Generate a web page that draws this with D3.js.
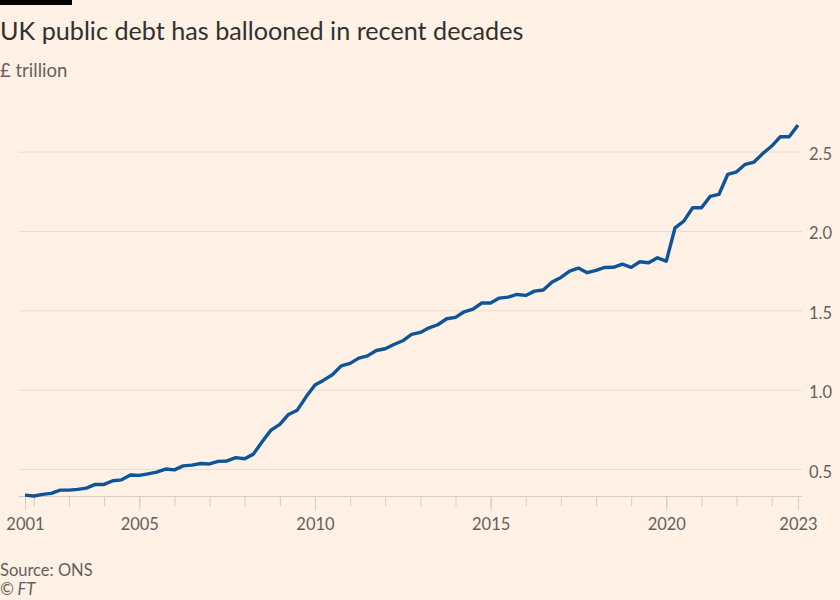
<!DOCTYPE html>
<html>
<head>
<meta charset="utf-8">
<script src="https://cdn.jsdelivr.net/npm/d3@7"></script>
<style>
  html, body { margin: 0; padding: 0; background: #fff1e5; }
  svg { display: block; }
  text { font-family: "Lato", "Noto Sans", sans-serif; }
</style>
</head>
<body>
<svg id="chart" width="840" height="600"></svg>
<script>
// ---- Data ----
const title = "UK public debt has ballooned in recent decades";
const subtitle = "£ trillion";
const source = "Source: ONS";
const credit = "© FT";

// Quarterly observations, first quarter start and count
const startDate = "2001-10-01";
const endDate = "2023-10-01";
const debtValues = [
  0.336, 0.330, 0.340, 0.347, 0.367, 0.367, 0.372, 0.380, 0.403, 0.403,
  0.426, 0.432, 0.462, 0.460, 0.470, 0.481, 0.500, 0.495, 0.520, 0.525,
  0.535, 0.532, 0.548, 0.551, 0.572, 0.565, 0.594, 0.672, 0.745, 0.781,
  0.844, 0.871, 0.955, 1.029, 1.060, 1.094, 1.150, 1.166, 1.199, 1.213,
  1.247, 1.258, 1.285, 1.308, 1.348, 1.361, 1.390, 1.409, 1.447, 1.456,
  1.491, 1.508, 1.546, 1.546, 1.577, 1.583, 1.600, 1.594, 1.621, 1.628,
  1.678, 1.707, 1.747, 1.766, 1.737, 1.752, 1.770, 1.771, 1.791, 1.771,
  1.806, 1.800, 1.831, 1.810, 2.020, 2.062, 2.146, 2.146, 2.218, 2.230,
  2.357, 2.373, 2.420, 2.434, 2.489, 2.535, 2.594, 2.594, 2.667
];
const yTicks = [0.5, 1.0, 1.5, 2.0, 2.5];
const xLabelYears = ["2005", "2010", "2015", "2020"];
const xEndLabels = ["2001", "2023"];
const yDomain = [0.327, 2.667];

// ---- Build ----
const parse = d3.utcParse("%Y-%m-%d");
const t0 = parse(startDate), t1 = parse(endDate);
const dates = d3.utcMonth.every(3).range(t0, d3.utcMonth.offset(t1, 1));
const data = debtValues.map((v, i) => ({ date: dates[i], value: v }));

const svg = d3.select("#chart");
const W = 840, H = 600;
svg.append("rect").attr("width", W).attr("height", H).attr("fill", "#fff1e5");

const x = d3.scaleUtc().domain([t0, t1]).range([25, 798]);
const y = d3.scaleLinear().domain(yDomain).range([496.5, 125.1]);

const gridLeft = 19, gridRight = 802;

// top bar
svg.append("rect").attr("x", 0).attr("y", 0).attr("width", 72).attr("height", 5).attr("fill", "#000");

// title & subtitle
svg.append("text").attr("x", 0).attr("y", 40)
  .attr("font-size", 25.2).attr("fill", "#33302e").text(title);
svg.append("text").attr("x", 0).attr("y", 77)
  .attr("font-size", 18.5).attr("fill", "#66605c").text(subtitle);

// gridlines + y labels
const yAxis = d3.axisRight(y).tickValues(yTicks).tickFormat(d3.format(".1f"))
  .tickSize(gridRight - gridLeft).tickPadding(7);
const gy = svg.append("g").attr("transform", `translate(${gridLeft},0)`).call(yAxis);
gy.select(".domain").remove();
gy.selectAll(".tick line").attr("stroke", "#e9ddd2").attr("stroke-width", 1);
gy.selectAll(".tick text").attr("font-size", 16.5).attr("fill", "#66605c")
  .attr("font-family", "Lato, 'Noto Sans', sans-serif")
  .attr("dy", 0).attr("y", 8).attr("text-anchor", "start");

// x axis: yearly minor ticks
const yearTicks = d3.utcYear.range(d3.utcYear.offset(d3.utcYear.floor(t0), 1), d3.utcMonth.offset(t1, 1));
const xMinor = d3.axisBottom(x).tickValues(yearTicks).tickSize(10).tickFormat("");
const gxMinor = svg.append("g").attr("transform", `translate(0,${y(yDomain[0])})`).call(xMinor);
gxMinor.select(".domain").remove();
gxMinor.selectAll(".tick line").attr("stroke", "#d9ccc1");

// major ticks & labels
const majorDates = [t0, ...xLabelYears.map(s => d3.utcParse("%Y")(s)), t1];
const majorLabels = [xEndLabels[0], ...xLabelYears, xEndLabels[1]];
const xMajor = d3.axisBottom(x).tickValues(majorDates).tickSize(14).tickPadding(8)
  .tickFormat((d, i) => majorLabels[i]);
const gxMajor = svg.append("g").attr("transform", `translate(0,${y(yDomain[0])})`).call(xMajor);
gxMajor.select(".domain").remove();
gxMajor.selectAll(".tick line").attr("stroke", "#d9ccc1");
gxMajor.selectAll(".tick text").attr("font-size", 16.5).attr("fill", "#66605c")
  .attr("font-family", "Lato, 'Noto Sans', sans-serif");

// baseline
svg.append("line").attr("x1", gridLeft).attr("x2", gridRight)
  .attr("y1", y(yDomain[0])).attr("y2", y(yDomain[0]))
  .attr("stroke", "#d9ccc1").attr("stroke-width", 1);

// line
const line = d3.line().x(d => x(d.date)).y(d => y(d.value));
svg.append("path").datum(data).attr("d", line)
  .attr("fill", "none").attr("stroke", "#0f5499").attr("stroke-width", 3.4)
  .attr("stroke-linejoin", "round").attr("stroke-linecap", "butt");

// footer
svg.append("text").attr("x", 0).attr("y", 576).attr("font-size", 16.5).attr("fill", "#66605c").text(source);
svg.append("text").attr("x", 0).attr("y", 595).attr("font-size", 16.5).attr("fill", "#66605c")
  .attr("font-style", "italic").text(credit);
</script>
</body>
</html>
